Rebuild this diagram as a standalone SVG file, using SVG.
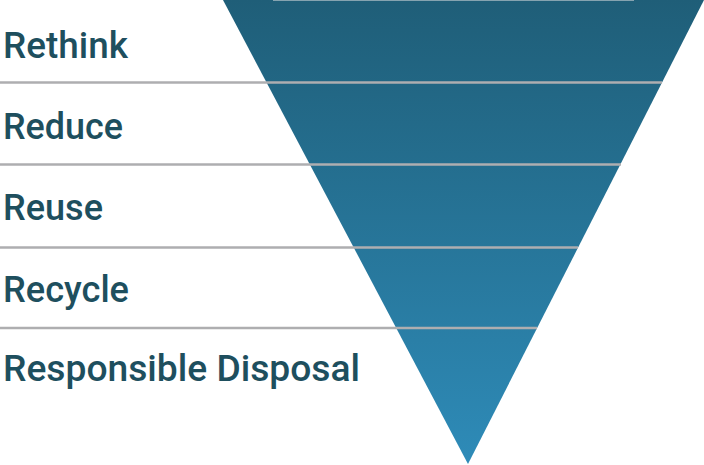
<svg xmlns="http://www.w3.org/2000/svg" width="704" height="465" viewBox="0 0 704 465">
<defs>
<linearGradient id="g" x1="0" y1="0" x2="0" y2="1">
<stop offset="0" stop-color="#1f5e78"/>
<stop offset="1" stop-color="#2e8bb8"/>
</linearGradient>
<style>
.lbl{font-family:"Roboto","Liberation Sans",sans-serif;font-weight:500;font-size:36.5px;fill:#1e4f5e}
.sep{stroke:#aeaeb0;stroke-width:2.5}
</style>
</defs>
<g id="funnel">
<polygon points="223,0 704,0 468,464" fill="url(#g)"/>
<line x1="273" y1="0.5" x2="634" y2="0.5" stroke="#c9d2d6" stroke-width="1" stroke-opacity="0.6"/>
</g>
<g id="connectors">
<line class="sep" x1="0" y1="82.5" x2="662" y2="82.5"/>
<line class="sep" x1="0" y1="164.5" x2="621" y2="164.5"/>
<line class="sep" x1="0" y1="247.5" x2="578" y2="247.5"/>
<line class="sep" x1="0" y1="328" x2="537" y2="328"/>
</g>
<g id="rethink"><text class="lbl" x="3" y="58" textLength="125" lengthAdjust="spacingAndGlyphs">Rethink</text></g>
<g id="reduce"><text class="lbl" x="3" y="138.5" textLength="120" lengthAdjust="spacingAndGlyphs">Reduce</text></g>
<g id="reuse"><text class="lbl" x="3" y="220" textLength="100" lengthAdjust="spacingAndGlyphs">Reuse</text></g>
<g id="recycle"><text class="lbl" x="3" y="301.5" textLength="126" lengthAdjust="spacingAndGlyphs">Recycle</text></g>
<g id="disposal"><text class="lbl" x="3" y="381" textLength="357" lengthAdjust="spacingAndGlyphs">Responsible Disposal</text></g>
</svg>
